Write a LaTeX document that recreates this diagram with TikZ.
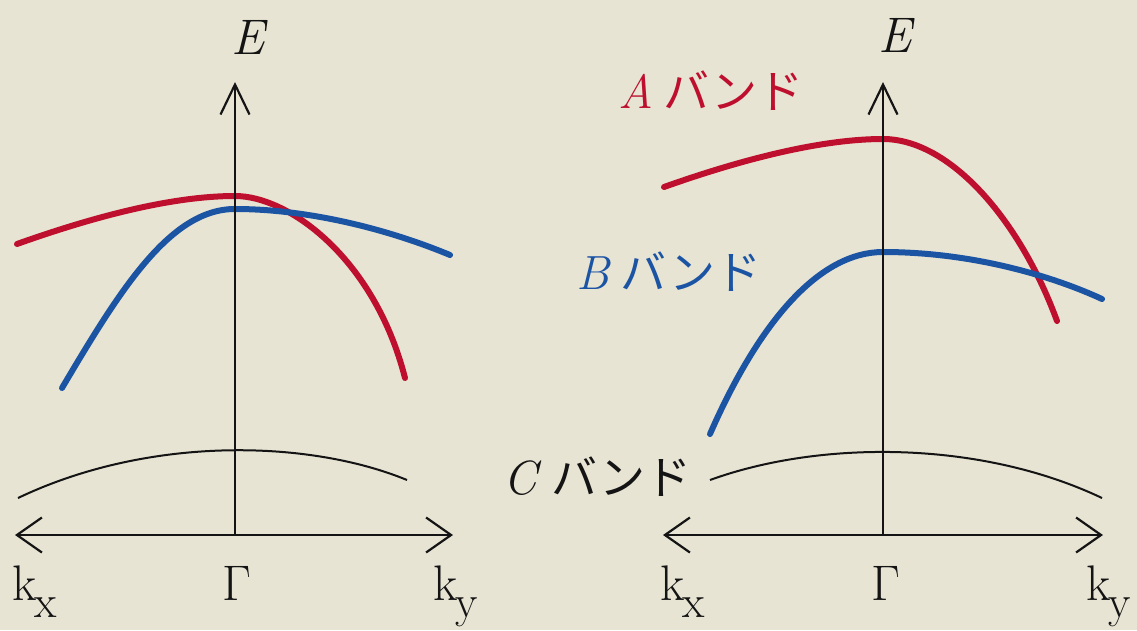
\documentclass[tikz,border=0pt]{standalone}
\usepackage{fontspec}
\newfontfamily\jp{Noto Sans CJK JP}
\usetikzlibrary{arrows.meta}
\definecolor{paper}{RGB}{232,228,212}
\definecolor{bandA}{RGB}{190,16,46}
\definecolor{bandB}{RGB}{28,84,164}
\definecolor{ink}{RGB}{20,20,20}
\tikzset{
  axisline/.style={ink, line width=2.2pt},
  harrow/.style={axisline, {Straight Barb[length=25pt,width=35pt,line width=2.2pt]}-{Straight Barb[length=25pt,width=35pt,line width=2.2pt]}},
  varrow/.style={axisline, -{Straight Barb[length=30pt,width=29pt,line width=2.2pt]}},
  redband/.style={bandA, line width=6pt, line cap=round},
  blueband/.style={bandB, line width=6pt, line cap=round},
  cband/.style={ink, line width=2pt},
  lab/.style={inner sep=0pt, anchor=base, font=\rmfamily\fontsize{50}{54}\selectfont, text=ink},
  blab/.style={inner sep=0pt, anchor=base west, font=\rmfamily\fontsize{48}{52}\selectfont},
}
\newcommand{\kk}[1]{k\kern-2pt\raisebox{-17pt}{\fontsize{46}{50}\selectfont #1}}
\begin{document}
\begin{tikzpicture}[x=1pt,y=-1pt]
\fill[paper] (0,0) rectangle (1137,630);
\useasboundingbox (0,0) rectangle (1137,630);

% ---------- left panel ----------
\coordinate (L0) at (235,535);
\coordinate (Ltop) at (235,82);
\coordinate (Lleft) at (15,535);
\coordinate (Lright) at (453,535);
\draw[cband] (18,498) .. controls (150,435) and (310,440) .. (407,480);
\draw[redband] (17,244) .. controls (90,218) and (170,196) .. (235,196)
                        .. controls (290,196) and (375,260) .. (405,378);
\draw[blueband] (62,388) .. controls (120,290) and (170,209) .. (235,209)
                         .. controls (310,209) and (390,230) .. (450,255);
\draw[varrow] (L0) -- (Ltop);
\draw[harrow] (Lleft) -- (Lright);
\node[lab] (LE) at (250,54) {\textit{E}};
\node[lab,anchor=base west] (Lkx) at (12,600) {\kk{x}};
\node[lab] (LG) at (237,600) {Γ};
\node[lab,anchor=base west] (Lky) at (433,600) {\kk{y}};

% ---------- right panel ----------
\coordinate (R0) at (883,535);
\coordinate (Rtop) at (883,82);
\coordinate (Rleft) at (663,535);
\coordinate (Rright) at (1103,535);
\draw[cband] (710,480) .. controls (820,440) and (980,440) .. (1102,498);
\draw[redband] (664,187) .. controls (740,160) and (820,139) .. (883,139)
                         .. controls (950,139) and (1020,220) .. (1057,321);
\draw[blueband] (710,434) .. controls (760,320) and (820,252) .. (883,252)
                          .. controls (970,252) and (1050,275) .. (1102,299);
\draw[varrow] (R0) -- (Rtop);
\draw[harrow] (Rleft) -- (Rright);
\node[lab] (RE) at (897,52) {\textit{E}};
\node[lab,anchor=base west] (Rkx) at (660,600) {\kk{x}};
\node[lab] (RG) at (886,600) {Γ};
\node[lab,anchor=base west] (Rky) at (1086,600) {\kk{y}};

\node[blab,text=bandA] (Alab) at (618,108) {\textit{A}\kern10pt{\jp\fontsize{46}{50}\selectfont バンド}};
\node[blab,text=bandB] (Blab) at (576,289) {\textit{B}\kern10pt{\jp\fontsize{46}{50}\selectfont バンド}};
\node[blab,text=ink] (Clab) at (503,494) {\textit{C}\kern10pt{\jp\fontsize{46}{50}\selectfont バンド}};
\end{tikzpicture}
\end{document}
